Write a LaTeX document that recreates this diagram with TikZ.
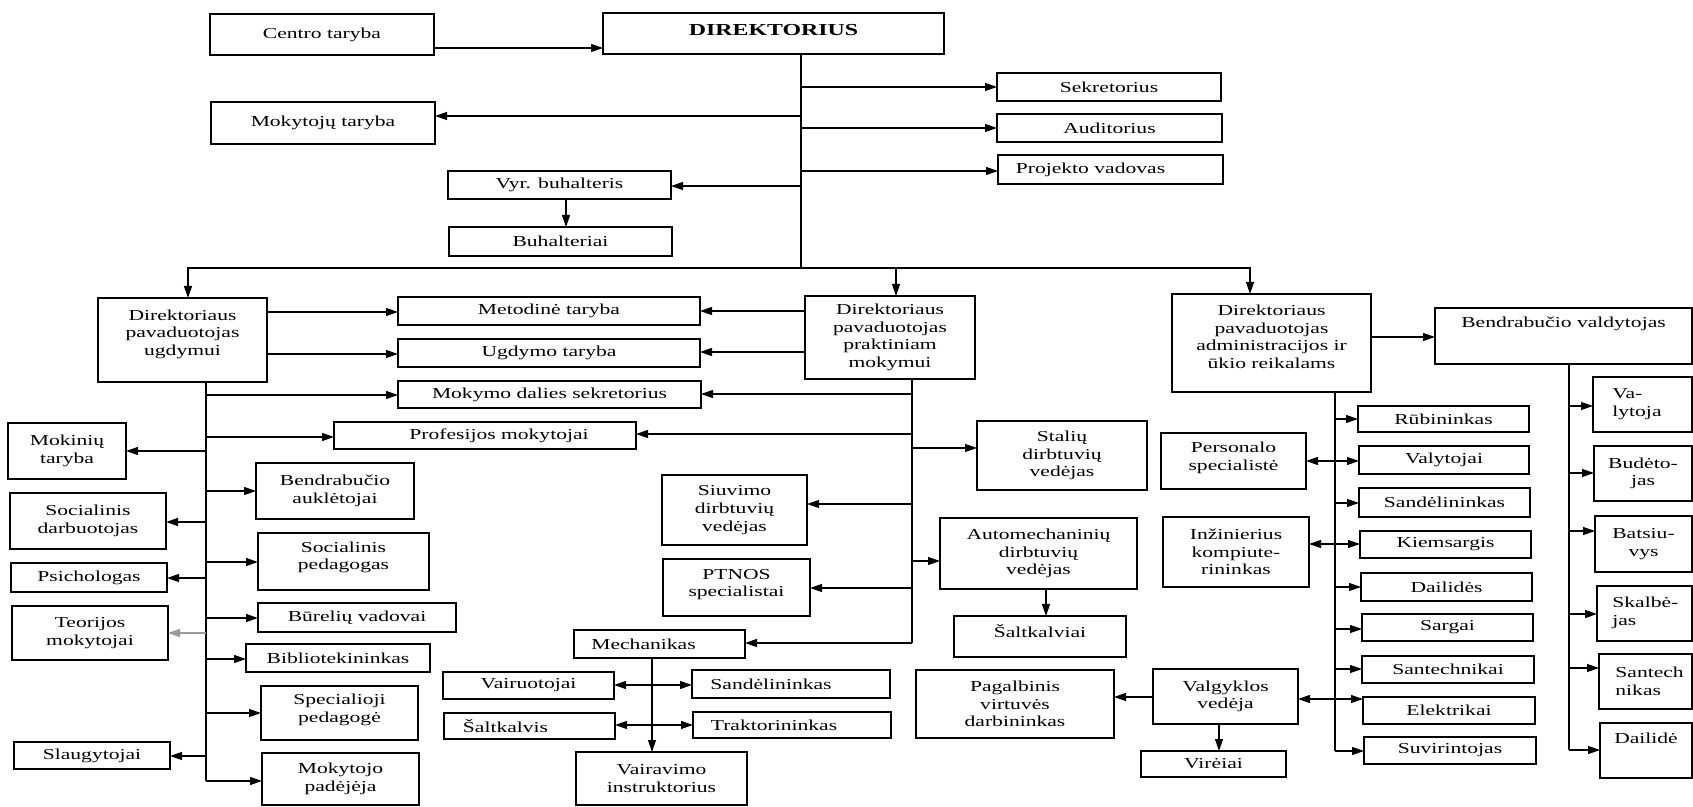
\documentclass[tikz,border=0pt]{standalone}
\usepackage{fontspec}
\setmainfont{Liberation Serif}[FakeStretch=1.42]
\usetikzlibrary{arrows.meta}
\tikzset{
 box/.style={draw, line width=0.6pt, inner sep=0pt, outer sep=0pt},
 txt/.style={inner sep=0pt, align=center, font=\fontsize{7.6}{8.8}\selectfont},
 ln/.style={line width=0.6pt},
 arr/.style={line width=0.6pt, -{Triangle[length=6pt,width=4pt]}},
 darr/.style={line width=0.6pt, {Triangle[length=6pt,width=4pt]}-{Triangle[length=6pt,width=4pt]}}
}
\newcommand\mkbox[7][]{%
 \node[box,minimum width={(#5-#3)*0.5pt},minimum height={(#6-#4)*0.5pt}] (#2) at ({(#3+#5)/2},{(#4+#6)/2}) {};
 \node[txt,at=(#2.center),#1] (#2-t) {#7};}
\begin{document}
\begin{tikzpicture}[x=0.5pt,y=-0.5pt]
\useasboundingbox (0,0) rectangle (1693,807);
% top
\mkbox{ct}{210}{14}{434}{55}{Centro taryba}
\mkbox[font={\fontsize{8.4}{10}\selectfont\bfseries},yshift=1.5pt]{dir}{603}{13}{944}{54}{DIREKTORIUS}
\mkbox{sek}{997}{73}{1221}{101}{Sekretorius}
\mkbox{aud}{997}{114}{1222}{142}{Auditorius}
\mkbox[xshift=-10pt]{proj}{998}{155}{1223}{184}{Projekto vadovas}
\mkbox{mokt}{211}{102}{435}{144}{Mokytojų taryba}
\mkbox{vyr}{448}{171}{671}{199}{Vyr. buhalteris}
\mkbox{buh}{449}{227}{672}{256}{Buhalteriai}
% left column
\mkbox[yshift=3pt]{dpu}{98}{298}{267}{382}{Direktoriaus\\pavaduotojas\\ugdymui}
\mkbox{met}{398}{297}{700}{325}{Metodinė taryba}
\mkbox{ugt}{398}{339}{700}{367}{Ugdymo taryba}
\mkbox{mds}{398}{381}{701}{408}{Mokymo dalies sekretorius}
\mkbox[xshift=7pt]{prof}{334}{422}{636}{449}{Profesijos mokytojai}
\mkbox{mokin}{8}{423}{126}{479}{Mokinių\\taryba}
\mkbox{baukl}{256}{463}{414}{519}{Bendrabučio\\auklėtojai}
\mkbox{socd}{10}{493}{166}{549}{Socialinis\\darbuotojas}
\mkbox[yshift=2pt]{spedg}{258}{533}{429}{590}{Socialinis\\pedagogas}
\mkbox{psich}{11}{563}{167}{592}{Psichologas}
\mkbox{teor}{12}{606}{168}{660}{Teorijos\\mokytojai}
\mkbox{burel}{258}{603}{456}{632}{Būrelių vadovai}
\mkbox{bibl}{246}{644}{430}{672}{Bibliotekininkas}
\mkbox[yshift=1.5pt]{spec}{261}{686}{418}{740}{Specialioji\\pedagogė}
\mkbox{slaug}{14}{742}{170}{769}{Slaugytojai}
\mkbox{mpad}{262}{753}{419}{805}{Mokytojo\\padėjėja}
% middle column
\mkbox{dpp}{805}{296}{975}{379}{Direktoriaus\\pavaduotojas\\praktiniam\\mokymui}
\mkbox{stal}{977}{421}{1147}{490}{Stalių\\dirbtuvių\\vedėjas}
\mkbox{siuv}{662}{475}{807}{545}{Siuvimo\\dirbtuvių\\vedėjas}
\mkbox{auto}{940}{518}{1137}{589}{Automechaninių\\dirbtuvių\\vedėjas}
\mkbox[yshift=1.5pt]{ptnos}{663}{559}{810}{616}{PTNOS\\specialistai}
\mkbox[yshift=2.5pt]{salt}{954}{616}{1126}{657}{Šaltkalviai}
\mkbox[xshift=-8pt]{mech}{574}{630}{745}{658}{Mechanikas}
\mkbox{vairuot}{443}{672}{614}{699}{Vairuotojai}
\mkbox[xshift=-12pt]{saltk}{444}{713}{615}{739}{Šaltkalvis}
\mkbox[xshift=-10pt]{sand1}{692}{670}{890}{698}{Sandėlininkas}
\mkbox[xshift=-9pt]{trakt}{693}{712}{891}{738}{Traktorininkas}
\mkbox{vair}{576}{752}{747}{805}{Vairavimo\\instruktorius}
\mkbox{pag}{916}{670}{1114}{738}{Pagalbinis\\virtuvės\\darbininkas}
% right column
\mkbox[yshift=3pt]{dpa}{1172}{294}{1371}{392}{Direktoriaus\\pavaduotojas\\administracijos ir\\ūkio reikalams}
\mkbox[yshift=6pt]{bv}{1435}{308}{1692}{364}{Bendrabučio valdytojas}
\mkbox{rub}{1358}{406}{1529}{432}{Rūbininkas}
\mkbox[yshift=1.5pt]{pers}{1161}{433}{1306}{489}{Personalo\\specialistė}
\mkbox{valyt}{1359}{446}{1529}{474}{Valytojai}
\mkbox{sand2}{1359}{488}{1530}{517}{Sandėlininkas}
\mkbox{inz}{1163}{517}{1309}{587}{Inžinierius\\kompiute-\\rininkas}
\mkbox{kiem}{1360}{531}{1531}{558}{Kiemsargis}
\mkbox{dail}{1361}{573}{1532}{601}{Dailidės}
\mkbox{sarg}{1362}{614}{1533}{641}{Sargai}
\mkbox{sant}{1362}{656}{1534}{683}{Santechnikai}
\mkbox{elek}{1363}{697}{1535}{724}{Elektrikai}
\mkbox{suvir}{1364}{737}{1536}{764}{Suvirintojas}
\mkbox{valg}{1153}{669}{1298}{724}{Valgyklos\\vedėja}
\mkbox{vir}{1141}{751}{1286}{777}{Virėiai}
% far right
\mkbox[at={(1612,404)},anchor=west,align=left]{valy2}{1593}{377}{1692}{432}{Va-\\lytoja}
\mkbox{bud}{1594}{446}{1692}{501}{Budėto-\\jas}
\mkbox{bats}{1595}{516}{1692}{572}{Batsiu-\\vys}
\mkbox[at={(1612,613)},anchor=west,align=left]{skal}{1597}{586}{1692}{641}{Skalbė-\\jas}
\mkbox[at={(1615,681)},anchor=west,align=left]{santn}{1599}{654}{1692}{709}{Santech\\nikas}
\mkbox[yshift=6pt]{dailide}{1600}{723}{1692}{778}{Dailidė}
% connectors: top
\draw[arr] (ct.east |- 0,48) -- (dir.west |- 0,48);
\coordinate (dT) at (801,268);
\draw[ln] (dT |- dir.south) -- (dT);
\foreach \n/\y in {sek/87,aud/128,proj/171} \draw[arr] (dT |- 0,\y) -- (\n.west |- 0,\y);
\foreach \n/\y in {mokt/116,vyr/186} \draw[arr] (dT |- 0,\y) -- (\n.east |- 0,\y);
\draw[arr] (vyr.south -| 566,0) -- (buh.north -| 566,0);
\draw[arr] (dT) -| (dpu.north -| 188,0);
\draw[arr] (dT) -| (dpp.north -| 896,0);
\draw[arr] (dT) -| (dpa.north -| 1250,0);
% DPU
\draw[arr] (dpu.east |- 0,312) -- (met.west |- 0,312);
\draw[arr] (dpu.east |- 0,354) -- (ugt.west |- 0,354);
\coordinate (uT) at (206,781);
\draw[ln] (uT |- dpu.south) -- (uT);
\foreach \n/\y in {mds/395,prof/437,baukl/491,spedg/562,burel/618,bibl/659,spec/713,mpad/781} \draw[arr] (uT |- 0,\y) -- (\n.west |- 0,\y);
\foreach \n/\y in {mokin/451,socd/522,psich/578,slaug/756} \draw[arr] (uT |- 0,\y) -- (\n.east |- 0,\y);
\draw[arr,black!40] (uT |- 0,633) -- (teor.east |- 0,633);
% DPP
\draw[arr] (dpp.west |- 0,311) -- (met.east |- 0,311);
\draw[arr] (dpp.west |- 0,352) -- (ugt.east |- 0,352);
\coordinate (pT) at (912,643);
\draw[ln] (pT |- dpp.south) -- (pT);
\draw[arr] (pT) -- (mech.east |- pT);
\foreach \n/\y in {mds/394,prof/434,siuv/504,ptnos/588} \draw[arr] (pT |- 0,\y) -- (\n.east |- 0,\y);
\foreach \n/\y in {stal/448,auto/561} \draw[arr] (pT |- 0,\y) -- (\n.west |- 0,\y);
\draw[arr] (auto.south -| 1046,0) -- (salt.north -| 1046,0);
\draw[arr] (mech.south -| 652,0) -- (vair.north -| 652,0);
\draw[darr] (vairuot.east |- 0,685) -- (sand1.west |- 0,685);
\draw[darr] (saltk.east |- 0,725) -- (trakt.west |- 0,725);
% DPA
\draw[arr] (dpa.east |- 0,337) -- (bv.west |- 0,337);
\coordinate (aT) at (1335,751);
\draw[ln] (aT |- dpa.south) -- (aT);
\foreach \n/\y in {rub/419,sand2/503,dail/587,sarg/629,sant/669,suvir/751} \draw[arr] (aT |- 0,\y) -- (\n.west |- 0,\y);
\draw[darr] (pers.east |- 0,461) -- (valyt.west |- 0,461);
\draw[darr] (inz.east |- 0,544) -- (kiem.west |- 0,544);
\draw[darr] (valg.east |- 0,699) -- (elek.west |- 0,699);
\draw[arr] (valg.west |- 0,697) -- (pag.east |- 0,697);
\draw[arr] (valg.south -| 1219,0) -- (vir.north -| 1219,0);
% BV
\coordinate (bT) at (1569,750);
\draw[ln] (bT |- bv.south) -- (bT);
\foreach \n/\y in {valy2/406,bud/473,bats/531,skal/614,santn/668,dailide/750} \draw[arr] (bT |- 0,\y) -- (\n.west |- 0,\y);
\end{tikzpicture}
\end{document}
